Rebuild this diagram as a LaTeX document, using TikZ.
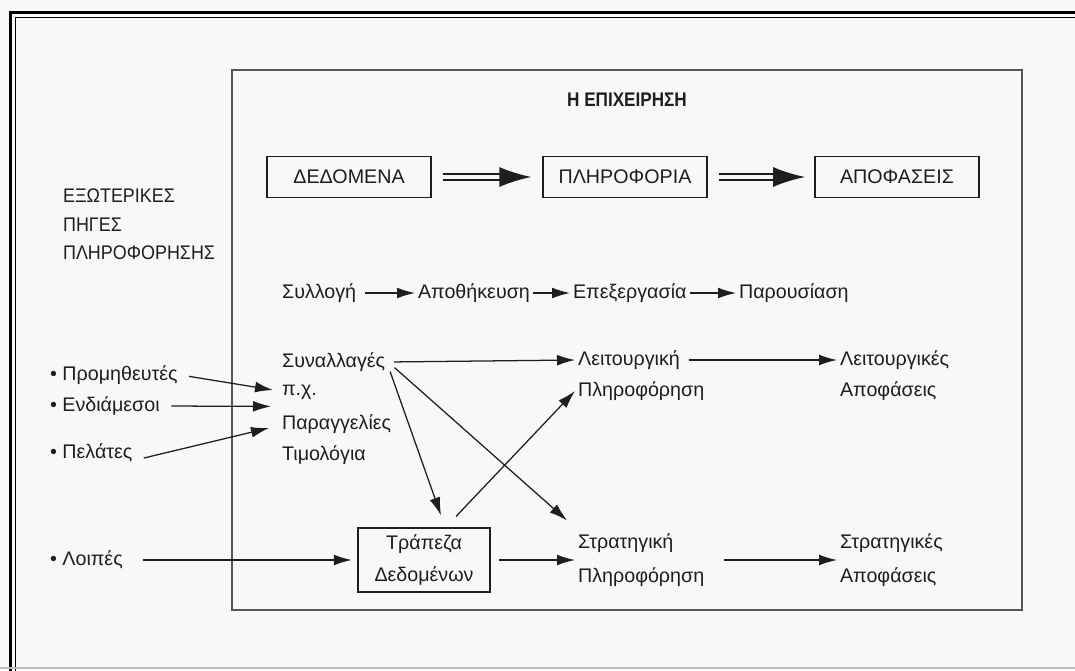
\documentclass[tikz,border=0pt]{standalone}
\usepackage{fontspec}
\setmainfont{Liberation Sans}
\newfontfamily\titlefont{Liberation Sans}[FakeStretch=0.87]
\newfontfamily\narrowfont{Liberation Sans}[FakeStretch=0.91]
\usetikzlibrary{arrows.meta,positioning,calc}
\definecolor{paper}{RGB}{248,248,248}
\definecolor{framegray}{RGB}{85,85,85}
\definecolor{ink}{RGB}{30,30,30}

\begin{document}
\begin{tikzpicture}[
    x=0.025cm, y=-0.025cm,
    font=\fontsize{14}{17}\selectfont, text=ink,
    txt/.style={anchor=west, inner sep=2pt},
    box/.style={rectangle, draw=ink, line width=0.8pt, minimum width=4.1cm, minimum height=1.03cm},
    arrow/.style={-{Latex[length=4.5mm,width=2.7mm]}, draw=ink, line width=0.9pt},
    dblarrow/.style={-{Latex[length=8mm,width=5mm]}, draw=ink, double=paper, double distance=2.4pt, line width=1.5pt}
]
    \useasboundingbox (0,0) rectangle (1075,670);
    \fill[paper] (0,0) rectangle (1075,670);
    \draw[line width=2.1pt] (10.5,675) -- (10.5,12.5) -- (1080,12.5);
    \draw[line width=1.1pt] (15.5,675) -- (15.5,17.5) -- (1080,17.5);
    \draw[black!25, line width=1.2pt] (0,668) -- (1075,668);
    \draw[framegray, line width=1.1pt] (232,70) rectangle (1022,610);

    \node[font=\fontsize{14}{17}\titlefont\bfseries] (firm) at (627,100) {Η ΕΠΙΧΕΙΡΗΣΗ};

    \node[box] (dat) at (349,177) {ΔΕΔΟΜΕΝΑ};
    \node[box] (inf) at (625,177) {ΠΛΗΡΟΦΟΡΙΑ};
    \node[box] (dec) at (897,177) {ΑΠΟΦΑΣΕΙΣ};

    \node[txt, font=\fontsize{14}{17}\narrowfont] (ext1) at (60,196) {ΕΞΩΤΕΡΙΚΕΣ};
    \node[txt, font=\fontsize{14}{17}\narrowfont] (ext2) at (60,225) {ΠΗΓΕΣ};
    \node[txt, font=\fontsize{14}{17}\narrowfont] (ext3) at (60,253) {ΠΛΗΡΟΦΟΡΗΣΗΣ};

    \node[txt] (col) at (279,293) {Συλλογή};
    \node[txt] (sto) at (415,293) {Αποθήκευση};
    \node[txt] (pro) at (570,293) {Επεξεργασία};
    \node[txt] (pre) at (736,293) {Παρουσίαση};

    \node[txt] (syn) at (279,362) {Συναλλαγές};
    \node[txt] (eg) at (279,392) {π.χ.};
    \node[txt] (ord) at (279,424) {Παραγγελίες};
    \node[txt] (inv) at (279,455) {Τιμολόγια};

    \node[txt] (sup) at (47,375) {• Προμηθευτές};
    \node[txt] (mid) at (47,406) {• Ενδιάμεσοι};
    \node[txt] (cus) at (47,453) {• Πελάτες};
    \node[txt] (oth) at (47,560) {• Λοιπές};

    \node[txt] (opi1) at (575,360) {Λειτουργική};
    \node[txt] (opi2) at (575,391) {Πληροφόρηση};
    \node[txt] (opd1) at (837,360) {Λειτουργικές};
    \node[txt] (opd2) at (837,391) {Αποφάσεις};

    \node[txt] (sti1) at (575,543) {Στρατηγική};
    \node[txt] (sti2) at (575,577) {Πληροφόρηση};
    \node[txt] (std1) at (837,543) {Στρατηγικές};
    \node[txt] (std2) at (837,577) {Αποφάσεις};

    \node[box, minimum width=3.3cm, minimum height=1.6cm, align=center] (bank) at (424,560)
        {Τράπεζα\\[6pt]Δεδομένων};

    \draw[dblarrow, shorten <=2.75mm, shorten >=2.75mm] (dat) -- (inf);
    \draw[dblarrow, shorten <=2.75mm, shorten >=2.3mm] (inf) -- (dec);

    \draw[arrow, shorten <=4pt] (col) -- (sto);
    \draw[arrow] (sto) -- (pro);
    \draw[arrow] (pro) -- (pre);

    \draw[arrow, shorten <=6pt] (sup.east) -- ($(eg.west)+(-6,-2)$);
    \draw[arrow, shorten <=6pt] (mid.east) -- ($(eg.west)!0.45!(ord.west)+(-8,0)$);
    \draw[arrow, shorten <=6pt] ([yshift=-5pt]cus.east) -- ($(ord.west)+(-10,4)$);
    \draw[arrow, shorten <=12pt, shorten >=4pt] (oth.east) -- (bank.west);

    \draw[arrow, shorten <=4pt] (syn.east) -- (opi1.west);
    \draw[arrow, shorten <=4pt] ([yshift=-3pt]syn.east) -- ($(bank.north)+(17,-12)$);
    \draw[arrow, shorten <=6pt] (syn.east) -- ($(sti1.north west)+(-8,-10)$);
    \draw[arrow] ($(bank.north)+(32,-11)$) -- (opi2.west);
    \draw[arrow, shorten <=6pt] (bank.east) -- (bank.east -| sti1.west);

    \draw[arrow, shorten <=4pt] (opi1.east) -- (opd1.west);
    \draw[arrow, shorten <=12pt] (sti2.east |- bank.east) -- (bank.east -| std1.west);
\end{tikzpicture}
\end{document}
